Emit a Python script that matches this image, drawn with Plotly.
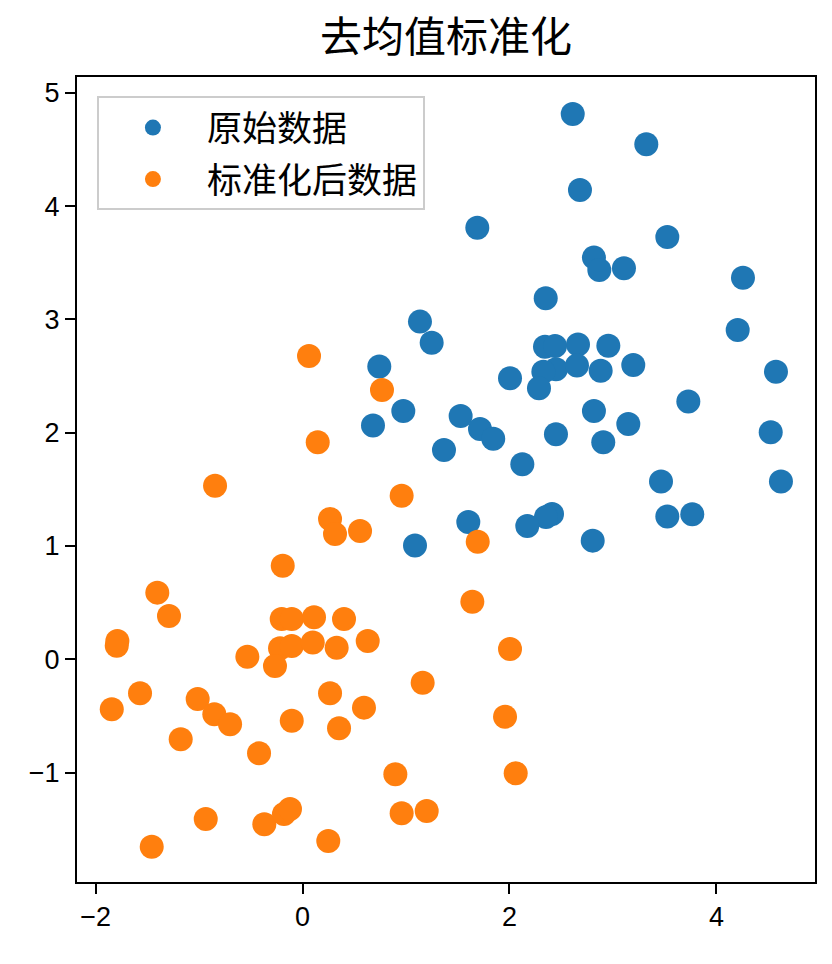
import plotly.graph_objects as go

# 原始数据 (blue)
orig_x = [2.611, 3.322, 2.681, 1.689, 3.525, 2.816, 2.868, 3.106, 4.256, 2.350,
          1.135, 1.248, 4.205, 2.343, 2.440, 2.662, 2.955, 0.742, 2.449, 2.327,
          2.652, 2.881, 3.196, 2.005, 2.285, 4.575, 0.974, 0.681, 1.528, 1.715,
          1.843, 2.816, 3.728, 3.148, 2.449, 2.906, 4.524, 1.367, 2.124, 3.464,
          4.623, 3.525, 3.766, 2.411, 2.353, 1.602, 2.172, 2.804, 1.087]
orig_y = [4.813, 4.545, 4.142, 3.809, 3.727, 3.545, 3.436, 3.451, 3.368, 3.186,
          2.980, 2.794, 2.906, 2.759, 2.765, 2.778, 2.768, 2.583, 2.560, 2.538,
          2.593, 2.547, 2.598, 2.480, 2.392, 2.538, 2.192, 2.064, 2.147, 2.033,
          1.947, 2.192, 2.274, 2.077, 1.986, 1.915, 2.004, 1.847, 1.721, 1.568,
          1.568, 1.259, 1.280, 1.282, 1.256, 1.212, 1.177, 1.047, 1.003]

# 标准化后数据 (orange)
std_x = [0.063, 0.147, 0.768, -0.845, 0.266, 0.314, 0.556, 0.958, 1.693, -0.191,
         -1.403, -1.290, -1.789, -1.795, -0.201, -0.104, 0.111, 0.401, -0.217, -0.104,
         0.099, 0.330, 0.630, 1.641, 2.005, -0.533, -0.266, -1.570, -1.843, -1.013,
         -0.852, -0.700, -1.177, 0.266, 1.161, 0.594, 0.353, -0.104, 1.957, -0.420,
         0.897, 2.060, -0.935, -0.369, -0.179, -0.121, 0.958, 1.200, -1.457, 0.249]
std_y = [2.677, 1.915, 2.377, 1.532, 1.238, 1.106, 1.132, 1.444, 1.038, 0.826,
         0.588, 0.382, 0.162, 0.120, 0.356, 0.356, 0.371, 0.356, 0.097, 0.117,
         0.147, 0.102, 0.162, 0.508, 0.091, 0.023, -0.059, -0.300, -0.441, -0.350,
         -0.485, -0.574, -0.706, -0.300, -0.207, -0.427, -0.609, -0.542, -0.507, -0.830,
         -1.015, -1.006, -1.410, -1.456, -1.365, -1.321, -1.359, -1.339, -1.654, -1.604]

x_ticks = [-2, 0, 2, 4]
y_ticks = [-1, 0, 1, 2, 3, 4, 5]

FONT = "Liberation Sans, Arial, Noto Sans CJK SC, sans-serif"
CJK = "Noto Sans CJK SC, Liberation Sans, sans-serif"

fig = go.Figure()
fig.add_trace(go.Scatter(x=orig_x, y=orig_y, mode="markers", name="原始数据",
                         legendgroup="a",
                         marker=dict(color="#1f77b4", size=24, line=dict(width=0))))
fig.add_trace(go.Scatter(x=std_x, y=std_y, mode="markers", name="标准化后数据",
                         legendgroup="b",
                         marker=dict(color="#ff7f0e", size=24, line=dict(width=0))))

axis_common = dict(showgrid=False, zeroline=False, showline=True, linecolor="black",
                   linewidth=2, mirror=True, ticks="outside", ticklen=10, tickwidth=2,
                   tickcolor="black", tickfont=dict(family=FONT, size=27, color="black"))

fig.update_layout(
    width=832, height=964,
    margin=dict(l=77, r=17, t=77, b=82),
    paper_bgcolor="white", plot_bgcolor="white",
    title=dict(text="去均值标准化", x=0.536, xanchor="center", y=0.961, yanchor="middle",
               font=dict(family=CJK, size=42, color="black")),
    xaxis=dict(range=[-2.179, 4.952], tickvals=x_ticks, **axis_common),
    yaxis=dict(range=[-1.966, 5.139], tickvals=y_ticks, **axis_common),
    legend=dict(x=0.027, y=0.976, xanchor="left", yanchor="top",
                bgcolor="rgba(255,255,255,0.8)", bordercolor="#cccccc", borderwidth=2,
                font=dict(family=CJK, size=35, color="black"),
                traceorder="grouped", tracegroupgap=3, itemwidth=98),
    showlegend=True,
)

fig.write_html("out.html")
